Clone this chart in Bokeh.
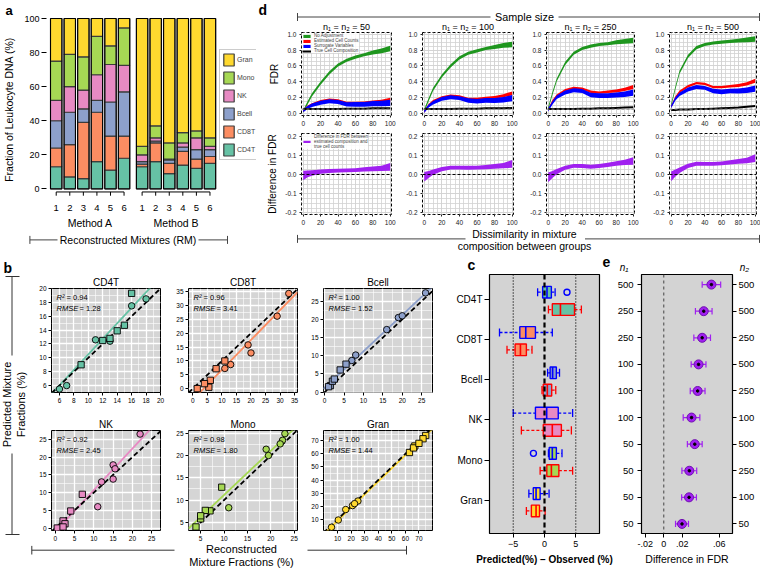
import numpy as np
from bokeh.plotting import figure
from bokeh.layouts import row, column
from bokeh.models import (Legend, LegendItem, Label, FixedTicker, Span, Range1d, Title,
                          LinearAxis, PrintfTickFormatter)
from bokeh.embed import file_html
from bokeh.resources import INLINE

FONT = "Liberation Sans"

# ---------------- data ----------------
cell_types = ["CD4T", "CD8T", "Bcell", "NK", "Mono", "Gran"]
cell_colors = ["#66c2a5", "#fc8d62", "#8da0cb", "#e78ac3", "#a6d854", "#ffd92f"]
mixture_labels = ["1", "2", "3", "4", "5", "6"]
method_names = ["Method A", "Method B"]

# panel a: composition (%) of the reconstructed mixtures
frac_A = {"CD4T": [13, 7, 6, 16, 11, 18], "CD8T": [11, 19, 33, 29, 20, 13],
          "Bcell": [16, 19, 8, 7, 20, 26], "NK": [12, 15, 11, 15, 22, 15.5],
          "Mono": [23, 19, 19.5, 22.5, 11, 22], "Gran": [25, 21, 22.5, 10.5, 16, 5.5]}
frac_B = {"CD4T": [13, 16, 9, 14, 12, 15], "CD8T": [1.5, 11, 6, 8, 5.5, 4],
          "Bcell": [1.5, 1, 2, 2.5, 5.5, 4], "NK": [4, 2, 0.5, 2.5, 7, 2],
          "Mono": [5, 7, 9.5, 6, 4, 5], "Gran": [75, 63, 73, 67, 66, 70]}

# panel b: predicted fractions
pred_A = {"CD4T": [12.4, 6.0, 5.5, 17.5, 12.6, 18.5], "CD8T": [7.3, 15.8, 34.4, 26.2, 12.9, 8.7],
          "Bcell": [17.2, 20.5, 10.2, 8.7, 21.0, 27.3], "NK": [13.0, 17.8, 6.0, 13.8, 26.5, 16.7],
          "Mono": [24.9, 21.4, 20.0, 23.4, 8.3, 22.6], "Gran": [24.0, 20.5, 22.0, 9.5, 17.5, 4.0]}
pred_B = {"CD4T": [12.8, 19.3, 9.0, 13.9, 12.5, 14.7], "CD8T": [0.0, 10.0, 3.0, 7.2, 0.5, 1.8],
          "Bcell": [1.8, 1.5, 3.0, 3.6, 7.7, 6.1], "NK": [4.8, 2.0, 0.0, 1.2, 9.5, 0.3],
          "Mono": [5.8, 7.6, 12.9, 7.7, 4.0, 6.5], "Gran": [74.0, 61.0, 71.5, 66.0, 64.5, 68.0]}
fit_slope = [1.12, 1.08, 1.0, 1.17, 0.99, 1.0]
fit_intercept = [-0.7, -4.0, 1.2, -1.0, 1.25, -1.0]
r2_text = ["0.94", "0.96", "1.00", "0.92", "0.98", "1.00"]
rmse_text = ["1.28", "3.41", "1.52", "2.45", "1.80", "1.44"]
b_ticks = {"CD4T": list(range(6, 21, 2)), "CD8T": list(range(0, 36, 5)), "Bcell": list(range(0, 26, 5)),
           "NK": list(range(0, 26, 5)), "Mono": list(range(5, 26, 5)), "Gran": list(range(10, 71, 10))}
b_xrange = {"CD4T": (4.9, 20), "CD8T": (-1.5, 36), "Bcell": (-0.3, 27.8),
            "NK": (-1, 27.3), "Mono": (2.4, 25.7), "Gran": (-0.4, 80)}
b_yrange = {"CD4T": (5, 20), "CD8T": (-1.4, 36.2), "Bcell": (-0.1, 28.5),
            "NK": (-0.7, 27.5), "Mono": (3.2, 25.6), "Gran": (1.5, 77.8)}

# panel c: boxplots of predicted - observed (whisker lo, q1, median, q3, whisker hi)
box_blue = {"CD4T": [-1.1, -0.3, 0.4, 1.1, 1.7], "CD8T": [-7.2, -3.95, -3.0, -1.45, 1.25],
            "Bcell": [0.5, 0.9, 1.3, 1.9, 2.4], "NK": [-5.0, -1.45, 0.35, 2.2, 4.5],
            "Mono": [0.63, 0.75, 1.25, 1.9, 2.8], "Gran": [-2.5, -1.8, -1.35, -0.7, 0.73]}
box_red = {"CD4T": [0.63, 1.25, 2.55, 4.8, 5.9], "CD8T": [-6.0, -4.7, -3.85, -2.9, -2.0],
           "Bcell": [-0.4, -0.2, 0.45, 1.15, 1.8], "NK": [-3.7, -0.2, 1.25, 2.7, 4.3],
           "Mono": [-0.7, 0.37, 1.1, 2.3, 4.5], "Gran": [-2.9, -2.1, -1.35, -0.8, 0.1]}
outlier_cells = ["CD4T", "Mono"]
outlier_values = [3.6, -1.77]

# panel d: FDR curves
sample_sizes = [50, 100, 250, 500]
d_x = [0, 5, 10, 20, 30, 40, 50, 60, 70, 80, 90, 100]
fdr_none = {50: [0.02, 0.13, 0.23, 0.38, 0.51, 0.61, 0.67, 0.71, 0.74, 0.77, 0.79, 0.82],
            100: [0.03, 0.17, 0.30, 0.47, 0.60, 0.70, 0.76, 0.79, 0.82, 0.84, 0.86, 0.87],
            250: [0.06, 0.25, 0.42, 0.63, 0.76, 0.82, 0.85, 0.87, 0.88, 0.90, 0.91, 0.92],
            500: [0.10, 0.32, 0.52, 0.72, 0.83, 0.87, 0.89, 0.90, 0.91, 0.92, 0.93, 0.94]}
fdr_none_hw = [0.02, 0.02, 0.02, 0.02, 0.02, 0.02, 0.02, 0.02, 0.02, 0.025, 0.03, 0.035]
fdr_est = {50: [0.03, 0.08, 0.11, 0.15, 0.17, 0.16, 0.13, 0.13, 0.13, 0.14, 0.15, 0.17],
           100: [0.02, 0.10, 0.15, 0.20, 0.22, 0.21, 0.18, 0.18, 0.19, 0.20, 0.22, 0.25],
           250: [0.04, 0.15, 0.22, 0.29, 0.32, 0.31, 0.27, 0.26, 0.27, 0.28, 0.30, 0.33],
           500: [0.08, 0.20, 0.27, 0.34, 0.38, 0.37, 0.33, 0.33, 0.34, 0.35, 0.37, 0.41]}
fdr_est_hw = [0.015, 0.015, 0.015, 0.015, 0.015, 0.015, 0.015, 0.015, 0.016, 0.018, 0.02, 0.025]
fdr_sva = {50: [0.03, 0.07, 0.10, 0.13, 0.15, 0.14, 0.11, 0.11, 0.11, 0.12, 0.12, 0.13],
           100: [0.02, 0.09, 0.13, 0.18, 0.20, 0.19, 0.16, 0.15, 0.16, 0.16, 0.17, 0.19],
           250: [0.04, 0.13, 0.20, 0.26, 0.29, 0.28, 0.23, 0.22, 0.22, 0.23, 0.24, 0.26],
           500: [0.08, 0.18, 0.24, 0.30, 0.33, 0.32, 0.28, 0.27, 0.28, 0.28, 0.29, 0.31]}
fdr_sva_hw = [0.02, 0.02, 0.022, 0.025, 0.025, 0.025, 0.028, 0.03, 0.03, 0.032, 0.035, 0.04]
fdr_true = {50: [0.05, 0.05, 0.05, 0.05, 0.05, 0.05, 0.055, 0.055, 0.055, 0.06, 0.06, 0.06],
            100: [0.05, 0.05, 0.05, 0.05, 0.05, 0.055, 0.055, 0.055, 0.06, 0.06, 0.06, 0.065],
            250: [0.05, 0.05, 0.05, 0.05, 0.05, 0.055, 0.055, 0.06, 0.06, 0.065, 0.07, 0.075],
            500: [0.04, 0.04, 0.045, 0.045, 0.05, 0.05, 0.055, 0.06, 0.065, 0.07, 0.08, 0.09]}
fdr_diff = {50: [-0.005, 0.003, 0.008, 0.015, 0.018, 0.02, 0.021, 0.023, 0.026, 0.029, 0.032, 0.04],
            100: [-0.012, 0.0, 0.012, 0.028, 0.036, 0.036, 0.035, 0.036, 0.038, 0.042, 0.046, 0.055],
            250: [-0.015, 0.0, 0.015, 0.035, 0.045, 0.044, 0.04, 0.044, 0.05, 0.057, 0.063, 0.07],
            500: [-0.01, 0.008, 0.022, 0.045, 0.056, 0.055, 0.055, 0.058, 0.063, 0.068, 0.073, 0.085]}
fdr_diff_hw = [0.025, 0.018, 0.014, 0.011, 0.01, 0.01, 0.01, 0.01, 0.011, 0.012, 0.014, 0.02]
d_legend = ["No Adjustment", "Estimated Cell Counts", "Surrogate Variables", "True Cell Composition"]

# panel e: mean difference in FDR by sample sizes (bottom to top)
e_n1 = [50, 50, 50, 50, 100, 100, 100, 250, 250, 500]
e_n2 = [50, 100, 250, 500, 100, 250, 500, 250, 500, 500]
e_diff = [0.0197, 0.0273, 0.0276, 0.0335, 0.030, 0.0366, 0.0376, 0.0415, 0.0432, 0.0515]
e_err = [0.007, 0.008, 0.008, 0.008, 0.009, 0.008, 0.008, 0.009, 0.009, 0.010]
e_xticks = [-0.02, 0.0, 0.02, 0.06]
e_xlabels = ["-.02", "0", ".02", ".06"]


# ---------------- helpers ----------------
def base_fig(w, h, l, r, t, b, xr, yr, axes=True):
    kw = dict(width=w, height=h, x_range=Range1d(*xr), y_range=Range1d(*yr),
              toolbar_location=None, output_backend="svg",
              min_border_left=l, min_border_right=r, min_border_top=t, min_border_bottom=b)
    if not axes:
        kw.update(x_axis_location=None, y_axis_location=None)
    p = figure(**kw)
    try:
        p.frame_align = False
    except Exception:
        pass
    p.border_fill_color = "white"
    p.background_fill_color = "white"
    p.outline_line_color = None
    p.grid.visible = False
    return p


def decor(w, h):
    return base_fig(w, h, 0, 0, 0, 0, (0, w), (0, h), axes=False)


def style_axis(ax, fs, tick_out=3, standoff=2, color="black"):
    ax.major_label_text_font = FONT
    ax.major_label_text_font_size = fs
    ax.major_label_text_color = color
    ax.major_tick_out = int(tick_out)
    ax.major_tick_in = 0
    ax.major_tick_line_color = color
    ax.minor_tick_line_color = None
    ax.major_label_standoff = int(standoff)
    ax.axis_line_color = None
    ax.axis_label_text_font = FONT
    ax.axis_label_text_font_style = "normal"
    ax.axis_label_text_color = "black"


def lab(p, x, y, text, fs, style="normal", align="left", baseline="middle", angle=0.0,
        xo=0, yo=0, color="black"):
    p.add_layout(Label(x=x, y=y, text=text, text_font=FONT, text_font_size=fs,
                       text_font_style=style, text_align=align, text_baseline=baseline,
                       angle=angle, x_offset=xo, y_offset=yo, text_color=color))


def add_title(p, text, fs, style="normal", align="center", offset=0, standoff=2):
    t = Title(text=text, align=align, offset=offset, text_font=FONT, text_font_size=fs,
              text_font_style=style, text_color="black")
    try:
        t.standoff = standoff
    except Exception:
        pass
    p.add_layout(t, "above")


def seg(p, x0, y0, x1, y1, color="#444444", width=1):
    p.segment(x0=x0, y0=y0, x1=x1, y1=y1, line_color=color, line_width=width)


# ---------------- panel a ----------------
PX_A = 13.7
xa = np.arange(1, 7, dtype=float)
xb = xa + 6.33
xs = np.concatenate([xa, xb])
x0_a = 1 - (53.8 - 44) / PX_A
pa = base_fig(256, 231, 44, 0, 17, 30, (x0_a, x0_a + 212 / PX_A), (-7.4, 100.6))
bottom = np.zeros(12)
rends = {}
for ct, col in zip(cell_types, cell_colors):
    vals = np.array(frac_A[ct] + frac_B[ct], dtype=float)
    rends[ct] = pa.vbar(x=xs, width=0.84, bottom=bottom, top=bottom + vals, fill_color=col,
                        line_color="#3c3c3c", line_width=1.2)
    bottom = bottom + vals
pa.vbar(x=xs, width=0.84, bottom=0, top=bottom, fill_color=None, line_color="black", line_width=1)
for grp in (xa, xb):
    pa.segment(x0=[grp[0]], y0=[-1.8], x1=[grp[-1]], y1=[-1.8], line_color="black", line_width=1)
    pa.segment(x0=grp, y0=[-1.8] * 6, x1=grp, y1=[-4.0] * 6, line_color="black", line_width=1)
pa.xaxis.ticker = FixedTicker(ticks=list(xs))
pa.xaxis.major_label_overrides = {float(v): s for v, s in zip(xs, mixture_labels * 2)}
style_axis(pa.xaxis, "9.5px", tick_out=0, standoff=3)
pa.xaxis.major_tick_line_color = None
grp_centers = [float(xa.mean()), float(xb.mean())]
ax2 = LinearAxis(ticker=FixedTicker(ticks=grp_centers),
                 major_label_overrides={c: m for c, m in zip(grp_centers, method_names)})
style_axis(ax2, "10.5px", tick_out=0, standoff=3)
ax2.major_tick_line_color = None
pa.add_layout(ax2, "below")
pa.yaxis.ticker = FixedTicker(ticks=[0, 20, 40, 60, 80, 100])
style_axis(pa.yaxis, "9px", tick_out=5, standoff=2)
pa.yaxis.axis_label = "Fraction of Leukocyte DNA (%)"
pa.yaxis.axis_label_text_font_size = "10.5px"
pa.yaxis.axis_label_standoff = 6
add_title(pa, "a", "13px", style="bold", align="left", offset=-41, standoff=0)
leg_a = Legend(items=[LegendItem(label=ct, renderers=[rends[ct]]) for ct in reversed(cell_types)],
               location=(173, 41), label_text_font=FONT, label_text_font_size="7px",
               glyph_width=13, glyph_height=15, label_height=15, spacing=3, padding=2,
               margin=0, border_line_color="#999999", label_standoff=2,
               background_fill_color="white")
pa.add_layout(leg_a)

fa = decor(256, 24)
seg(fa, [29.4, 198], [15.6, 15.6], [57, 227], [15.6, 15.6])
seg(fa, [29.4, 227], [11.6, 11.6], [29.4, 227], [19.6, 19.6])
lab(fa, 127.5, 15.6, "Reconstructed Mixtures (RM)", "10.5px", align="center")

# ---------------- panel d ----------------
d_cols = [(145, 45, 10), (124, 21, 12), (123, 21, 14), (112, 21, 4)]
d_title_x = [90, 211.5, 334, 456.5]


def d_fig(ci, top):
    w, l, r = d_cols[ci]
    if top:
        h, t, b, yr = 97, 1, 12, (-0.031, 1.023)
    else:
        h, t, b, yr = 99, 5, 12, (-0.208, 0.213)
    p = base_fig(w, h, l, r, t, b, (-2, 101.5), yr)
    xt = FixedTicker(ticks=[0, 20, 40, 60, 80, 100], minor_ticks=list(range(0, 101, 5)))
    if top:
        yt = FixedTicker(ticks=[0, 0.2, 0.4, 0.6, 0.8, 1.0],
                         minor_ticks=[round(v, 3) for v in np.arange(0, 1.001, 0.05)])
    else:
        yt = FixedTicker(ticks=[-0.2, -0.1, 0, 0.1, 0.2],
                         minor_ticks=[round(v, 4) for v in np.arange(-0.2, 0.2001, 0.025)])
    p.xaxis.ticker = xt
    p.xgrid.ticker = xt
    p.yaxis.ticker = yt
    p.ygrid.ticker = yt
    p.grid.visible = True
    p.grid.grid_line_color = "#d2d2d2"
    p.grid.minor_grid_line_color = "#d2d2d2"
    p.grid.grid_line_width = 0.8
    p.grid.minor_grid_line_width = 0.8
    p.yaxis.formatter = PrintfTickFormatter(format="%.1f")
    style_axis(p.xaxis, "6.5px", 2, 1, "#222222")
    style_axis(p.yaxis, "6.5px", 2, 1, "#222222")
    p.outline_line_color = "black"
    p.outline_line_dash = "3 2"
    p.outline_line_width = 1
    return p


d_top, d_bot = [], []
for ci, n in enumerate(sample_sizes):
    p = d_fig(ci, True)
    p.add_layout(Span(location=0.05, dimension="width", line_color="#888888", line_dash="3 2", line_width=1))
    g = np.array(fdr_none[n]); gh = np.array(fdr_none_hw)
    e = np.array(fdr_est[n]); eh = np.array(fdr_est_hw)
    s = np.array(fdr_sva[n]); sh = np.array(fdr_sva_hw)
    rg = p.varea(x=d_x, y1=g - gh, y2=g + gh, fill_color="#1e961e")
    rr = p.varea(x=d_x, y1=e - eh, y2=e + eh, fill_color="#ff0000")
    rb = p.varea(x=d_x, y1=s - sh, y2=s + sh, fill_color="#0000ff")
    rk = p.line(x=d_x, y=fdr_true[n], line_color="black", line_width=2)
    if ci == 0:
        p.yaxis.axis_label = "FDR"
        p.yaxis.axis_label_text_font_size = "10px"
        p.yaxis.axis_label_standoff = 4
        lg = Legend(items=[LegendItem(label=t, renderers=[r]) for t, r in zip(d_legend, [rg, rr, rb, rk])],
                    location="top_left", label_text_font=FONT, label_text_font_size="4.5px",
                    glyph_width=9, glyph_height=4, label_height=5, label_width=10, spacing=0,
                    padding=1, margin=1, label_standoff=3, border_line_color=None,
                    background_fill_alpha=0.85)
        p.add_layout(lg)
    d_top.append(p)

    q = d_fig(ci, False)
    q.add_layout(Span(location=0, dimension="width", line_color="black", line_dash="3 2", line_width=1))
    dd = np.array(fdr_diff[n]); dh = np.array(fdr_diff_hw)
    rp = q.varea(x=d_x, y1=dd - dh, y2=dd + dh, fill_color="#a020f0")
    if ci == 0:
        q.yaxis.axis_label = "Difference in FDR"
        q.yaxis.axis_label_text_font_size = "10px"
        q.yaxis.axis_label_standoff = 4
        lg2 = Legend(items=[LegendItem(label="Difference in FDR between\nestimated composition and\ntrue cell counts",
                                       renderers=[rp])],
                     location="top_left", label_text_font=FONT, label_text_font_size="4.5px",
                     glyph_width=9, glyph_height=3, label_height=5, spacing=0, padding=1, margin=1,
                     label_standoff=3, border_line_color=None, background_fill_alpha=0.85)
        q.add_layout(lg2)
    d_bot.append(q)

# header / footer of panel d (pixel coordinate canvases)
hd = decor(504, 31)
lab(hd, 2, 30, "d", "14px", style="bold", baseline="top")
seg(hd, [41, 302], [14.5, 14.5], [234, 503], [14.5, 14.5])
seg(hd, [41, 503], [10.5, 10.5], [41, 503], [18.5, 18.5])
lab(hd, 268, 14.5, "Sample size", "10.8px", align="center")
for tx, n in zip(d_title_x, sample_sizes):
    lab(hd, tx, 5, "n\u2081 = n\u2082 = %d" % n, "9px", align="center")

fd = decor(504, 28)
seg(fd, [41, 328.5], [16.6, 16.6], [209, 503], [16.6, 16.6])
seg(fd, [41, 503], [12.6, 12.6], [41, 503], [20.6, 20.6])
lab(fd, 268, 22, "Dissimilarity in mixture", "10.5px", align="center")
lab(fd, 268, 9.8, "composition between groups", "10.5px", align="center")

# ---------------- panel b ----------------
b_cols = [(137, 15, 13), (135, 15, 11), (128, 15, 4)]
b_rows = [(159, 33, 22), (129, 16, 13)]
b_figs = []
for k, ct in enumerate(cell_types):
    ri, ci = divmod(k, 3)
    w, l, r = b_cols[ci]
    h, t, b = b_rows[ri]
    xr, yr = b_xrange[ct], b_yrange[ct]
    col = cell_colors[k]
    p = base_fig(w, h, l, r, t, b, xr, yr)
    p.background_fill_color = "#d5d5d5"
    ticks = b_ticks[ct]
    step = ticks[1] - ticks[0]
    minor = [ticks[0] - step + j * step / 2.0 for j in range(2 * len(ticks) + 4)]
    tk = FixedTicker(ticks=ticks, minor_ticks=minor)
    p.xaxis.ticker = tk
    p.yaxis.ticker = tk
    p.xgrid.ticker = tk
    p.ygrid.ticker = tk
    p.grid.visible = True
    p.grid.grid_line_color = "white"
    p.grid.grid_line_width = 1.3
    p.grid.minor_grid_line_color = "white"
    p.grid.minor_grid_line_width = 0.6
    style_axis(p.xaxis, "6.5px", 3, 1)
    style_axis(p.yaxis, "6.5px", 3, 1)
    p.outline_line_color = "black"
    p.outline_line_width = 1
    xl = np.array(xr, dtype=float)
    p.line(xl, fit_slope[k] * xl + fit_intercept[k], line_color=col, line_width=1.8)
    p.line(xl, xl, line_color="black", line_dash="5 3", line_width=1.8)
    p.scatter(frac_A[ct], pred_A[ct], marker="circle", size=6.5, fill_color=col,
              line_color="black", line_width=0.9)
    p.scatter(frac_B[ct], pred_B[ct], marker="square", size=6.3, fill_color=col,
              line_color="black", line_width=0.9)
    add_title(p, ct, "10px", align="center", standoff=2)
    lab(p, xr[0], yr[1], "R\u00b2", "7.5px", style="italic", xo=5, yo=-9)
    lab(p, xr[0], yr[1], "= " + r2_text[k], "7.5px", xo=15, yo=-9)
    lab(p, xr[0], yr[1], "RMSE", "7.5px", style="italic", xo=5, yo=-20)
    lab(p, xr[0], yr[1], "= " + rmse_text[k], "7.5px", xo=28, yo=-20)
    b_figs.append(p)

lb = decor(36, 288)
lab(lb, 3, 284, "b", "14px", style="bold", baseline="top")
seg(lb, [11.5, 11.5], [267, 90], [11.5, 11.5], [188, 9], color="#333333")
seg(lb, [5, 5], [267, 9], [19, 19], [267, 9], color="#333333")
lab(lb, 6.5, 139, "Predicted Mixture", "11px", align="center", angle=np.pi / 2)
lab(lb, 20, 139, "Fractions (%)", "11px", align="center", angle=np.pi / 2)

bb = decor(436, 25)
seg(bb, [31.3, 307], [18.3, 18.3], [174, 406], [18.3, 18.3], color="#333333")
seg(bb, [31.3, 406], [14, 14], [31.3, 406], [22.6, 22.6], color="#333333")
lab(bb, 241, 19.5, "Reconstructed", "11px", align="center")
lab(bb, 241, 6.6, "Mixture Fractions (%)", "11px", align="center")

# ---------------- panel c ----------------
cat_pos = [6, 5, 4, 3, 2, 1]
hc = decor(178, 18)
lab(hc, 31, 16.5, "c", "14px", style="bold", baseline="top")
lab(hc, 166, 16.5, "e", "14px", style="bold", baseline="top")

pc = base_fig(178, 295, 53, 15, 1, 35, (-8.8, 8.8), (0.18, 6.61))
pc.background_fill_color = "#d3d3d3"
pc.outline_line_color = "black"
pc.outline_line_width = 1.2
pc.yaxis.ticker = FixedTicker(ticks=cat_pos)
pc.yaxis.major_label_overrides = {pos: ct for pos, ct in zip(cat_pos, cell_types)}
style_axis(pc.yaxis, "10px", 5, 2)
pc.xaxis.ticker = FixedTicker(ticks=[-5, 0, 5])
style_axis(pc.xaxis, "9px", 4, 3)
pc.xaxis.axis_label = "Predicted(%) \u2013 Observed (%)"
pc.xaxis.axis_label_text_font_style = "bold"
pc.xaxis.axis_label_text_font_size = "10px"
pc.xaxis.axis_label_standoff = 4
pc.add_layout(Span(location=-5, dimension="height", line_color="black", line_dash="1 2", line_width=1.2))
pc.add_layout(Span(location=5, dimension="height", line_color="black", line_dash="1 2", line_width=1.2))
for boxes, off, lc in ((box_blue, 0.17, "#0000ff"), (box_red, -0.26, "#ff0000")):
    y = np.array(cat_pos, dtype=float) + off
    st = np.array([boxes[ct] for ct in cell_types])
    pc.segment(x0=st[:, 0], y0=y, x1=st[:, 1], y1=y, line_color=lc, line_dash="3 2", line_width=1.3)
    pc.segment(x0=st[:, 3], y0=y, x1=st[:, 4], y1=y, line_color=lc, line_dash="3 2", line_width=1.3)
    pc.segment(x0=st[:, 0], y0=y - 0.1, x1=st[:, 0], y1=y + 0.1, line_color=lc, line_width=1.3)
    pc.segment(x0=st[:, 4], y0=y - 0.1, x1=st[:, 4], y1=y + 0.1, line_color=lc, line_width=1.3)
    pc.hbar(y=y, height=0.29, left=st[:, 1], right=st[:, 3], fill_color=cell_colors,
            line_color=lc, line_width=1.4)
    pc.segment(x0=st[:, 2], y0=y - 0.145, x1=st[:, 2], y1=y + 0.145, line_color=lc, line_width=1.6)
oy = [cat_pos[cell_types.index(c)] + 0.17 for c in outlier_cells]
pc.scatter(outlier_values, oy, marker="circle", size=6, fill_color=None, line_color="#0000ff", line_width=1.4)
pc.add_layout(Span(location=0, dimension="height", line_color="black", line_dash="5 3", line_width=2.2))

# ---------------- panel e ----------------
rows_e = list(range(1, 11))
he = decor(146, 18)
lab(he, 9.6, 6.4, "n\u2081", "10px", style="italic", align="center")
lab(he, 130, 6.4, "n\u2082", "10px", style="italic", align="center")

pe = base_fig(146, 295, 25, 28, 1, 35, (-0.0241, 0.0743), (0.64, 10.38))
pe.background_fill_color = "#d3d3d3"
pe.outline_line_color = "black"
pe.outline_line_width = 1.2
pe.yaxis.ticker = FixedTicker(ticks=rows_e)
pe.yaxis.major_label_overrides = {r: str(v) for r, v in zip(rows_e, e_n1)}
style_axis(pe.yaxis, "9.5px", 4, 4)
ry = LinearAxis(ticker=FixedTicker(ticks=rows_e),
                major_label_overrides={r: str(v) for r, v in zip(rows_e, e_n2)})
style_axis(ry, "9.5px", 4, 2)
pe.add_layout(ry, "right")
pe.xaxis.ticker = FixedTicker(ticks=e_xticks)
pe.xaxis.major_label_overrides = {t: s for t, s in zip(e_xticks, e_xlabels)}
style_axis(pe.xaxis, "9px", 4, 3)
pe.xaxis.axis_label = "Difference in FDR"
pe.xaxis.axis_label_text_font_size = "10.5px"
pe.xaxis.axis_label_standoff = 3
pe.add_layout(Span(location=0, dimension="height", line_color="#444444", line_dash="3 3", line_width=1))
ed = np.array(e_diff); ee = np.array(e_err); ey = np.array(rows_e, dtype=float)
pe.segment(x0=ed - ee, y0=ey, x1=ed + ee, y1=ey, line_color="#a020f0", line_width=1.2)
pe.segment(x0=ed - ee, y0=ey - 0.12, x1=ed - ee, y1=ey + 0.12, line_color="#a020f0", line_width=1.2)
pe.segment(x0=ed + ee, y0=ey - 0.12, x1=ed + ee, y1=ey + 0.12, line_color="#a020f0", line_width=1.2)
pe.scatter(ed, ey, marker="circle", size=9, fill_color="#a020f0", line_color="#7010b0", line_width=1)
pe.scatter(ed, ey, marker="circle", size=2.5, fill_color="black", line_color="black")

# ---------------- layout ----------------
top = row(column(pa, fa), column(hd, row(*d_top), row(*d_bot), fd))
b_grid = column(row(*b_figs[:3]), row(*b_figs[3:]))
b_panel = column(row(lb, b_grid), bb)
bottom_band = row(b_panel, column(hc, pc), column(he, pe))
layout = column(top, bottom_band)

open("out.html", "w").write(file_html(layout, INLINE))
